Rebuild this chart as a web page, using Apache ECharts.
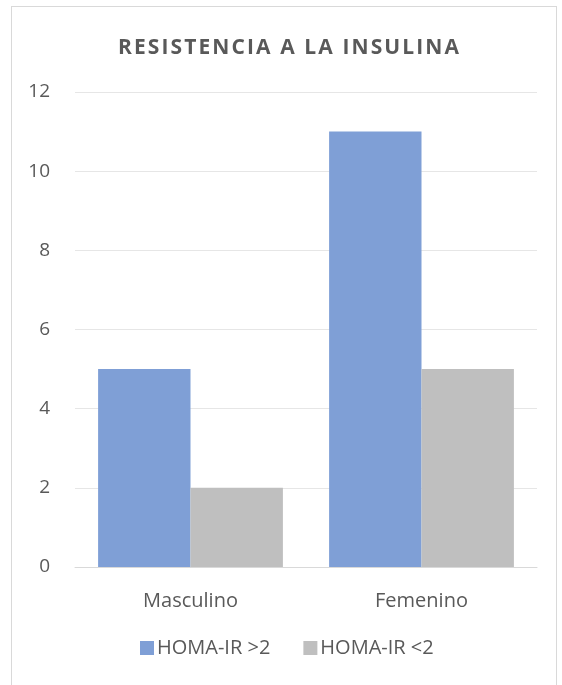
<!DOCTYPE html>
<html>
<head>
<meta charset="utf-8">
<script src="https://cdn.jsdelivr.net/npm/echarts@6/dist/echarts.min.js"></script>
<style>
  html, body { margin: 0; padding: 0; background: #fff; }
  #frame { position: absolute; left: 11px; top: 6px; width: 546px; height: 690px; border: 1px solid #d9d9d9; box-sizing: border-box; }
  #chart { position: absolute; left: 0; top: 0; width: 562px; height: 685px; }
</style>
</head>
<body>
<div id="frame"></div>
<div id="chart"></div>
<script>
// Chart data
const categories = ['Masculino', 'Femenino'];
const seriesNames = ['HOMA-IR >2', 'HOMA-IR <2'];
const homaAbove2 = [5, 11];
const homaBelow2 = [2, 5];
const yTicks = [0, 2, 4, 6, 8, 10, 12];
const titleText = 'RESISTENCIA A LA INSULINA';

const textColor = '#595959';
const font = '"Open Sans", "Noto Sans", sans-serif';

// widen the title's tracking with hair spaces between letters
const spacedTitle = titleText.split('').join('\u200A');

const chart = echarts.init(document.getElementById('chart'), null, { renderer: 'canvas' });
chart.setOption({
  animation: false,
  backgroundColor: 'transparent',
  title: {
    text: spacedTitle,
    left: 113,
    top: 33,
    textStyle: { color: textColor, fontFamily: font, fontSize: 21, fontWeight: 'bold' }
  },
  legend: {
    data: seriesNames,
    top: 638,
    left: 140,
    padding: 0,
    itemWidth: 14,
    itemHeight: 14,
    itemGap: 33,
    icon: 'rect',
    textStyle: { color: textColor, fontFamily: font, fontSize: 20, padding: [0, 0, 0, -2] }
  },
  grid: { left: 75, right: 25, top: 92, bottom: 118, containLabel: false },
  xAxis: {
    type: 'category',
    data: categories,
    axisLine: { lineStyle: { color: '#d9d9d9', width: 1 } },
    axisTick: { show: false },
    axisLabel: { color: textColor, fontFamily: font, fontSize: 20, margin: 24 }
  },
  yAxis: {
    type: 'value',
    min: yTicks[0],
    max: yTicks[yTicks.length - 1],
    interval: 2,
    axisLine: { show: false },
    axisTick: { show: false },
    splitLine: { lineStyle: { color: '#e6e6e6', width: 1 } },
    axisLabel: { color: textColor, fontFamily: font, fontSize: 19, margin: 25 }
  },
  series: [
    {
      name: seriesNames[0],
      type: 'bar',
      data: homaAbove2,
      barGap: '0%',
      barCategoryGap: '20%',
      itemStyle: { color: '#7f9fd6' }
    },
    {
      name: seriesNames[1],
      type: 'bar',
      data: homaBelow2,
      itemStyle: { color: '#bfbfbf' }
    }
  ]
});
</script>
</body>
</html>
